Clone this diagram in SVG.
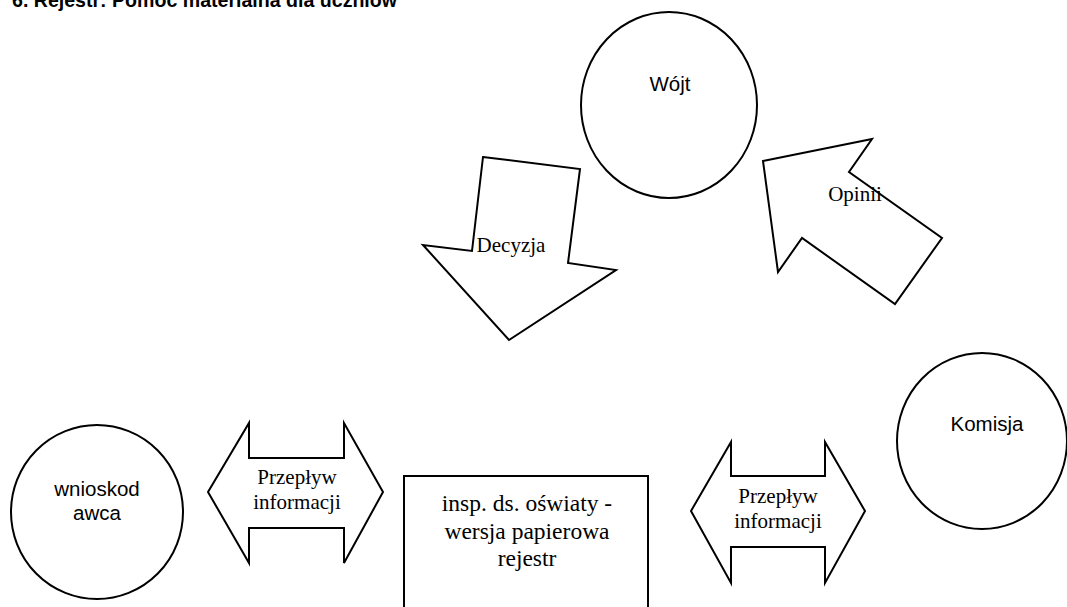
<svg xmlns="http://www.w3.org/2000/svg" width="1067" height="607" viewBox="0 0 1067 607">
  <style>
    .shape { fill: #ffffff; stroke: #000000; stroke-width: 2; stroke-linejoin: miter; }
    .sans { font-family: "Liberation Sans", Arial, sans-serif; fill: #000000; }
    .serif { font-family: "Liberation Serif", "Times New Roman", serif; fill: #000000; }
    .title { font-weight: bold; font-size: 19.5px; }
    .circ { font-size: 20.5px; text-anchor: middle; }
    .flow { font-size: 21px; text-anchor: middle; }
  </style>
  <rect x="0" y="0" width="1067" height="607" fill="#ffffff"/>

  <!-- heading, partly above the page edge -->
  <text class="sans title" x="12" y="7" textLength="385" lengthAdjust="spacingAndGlyphs">6. Rejestr: Pomoc materialna dla uczniów</text>

  <g id="connectors">
    <g id="arrow-decyzja">
      <polygon class="shape" points="483,157 580,169 568,263 616,270 509,340 423,245 472,251"/>
      <text class="serif flow" x="511" y="252" style="text-anchor:middle">Decyzja</text>
    </g>
    <g id="arrow-opinii">
      <polygon class="shape" points="763,161 872,139 849,172 942,238 895,304 802,238 778,272"/>
      <text class="serif flow" x="855" y="201">Opinii</text>
    </g>
    <g id="flow-left">
      <polygon class="shape" points="208,492 249,423 249,458 344,458 344,423 383,492 344,563 344,528 249,528 249,563"/>
      <text class="serif flow" x="297" y="484">Przepływ</text>
      <text class="serif flow" x="297" y="509">informacji</text>
    </g>
    <g id="flow-right">
      <polygon class="shape" points="691,511 731,442 731,476 825,476 825,442 865,511 825,583 825,547 731,547 731,583"/>
      <text class="serif flow" x="778" y="503">Przepływ</text>
      <text class="serif flow" x="778" y="528">informacji</text>
    </g>
  </g>

  <g id="node-wojt">
    <ellipse class="shape" cx="669" cy="105" rx="88" ry="93"/>
    <text class="sans circ" x="670" y="91">Wójt</text>
  </g>

  <g id="node-komisja">
    <ellipse class="shape" cx="982" cy="441" rx="85" ry="88"/>
    <text class="sans circ" x="987" y="431">Komisja</text>
  </g>

  <g id="node-wnioskodawca">
    <ellipse class="shape" cx="97" cy="512" rx="86" ry="87"/>
    <text class="sans circ" x="97" y="496">wnioskod</text>
    <text class="sans circ" x="97" y="520">awca</text>
  </g>

  <g id="node-inspektor">
    <rect class="shape" x="404" y="476" width="244" height="150"/>
    <text class="serif" x="527" y="511" font-size="23.5" text-anchor="middle">insp. ds. oświaty -</text>
    <text class="serif" x="527" y="539" font-size="23.5" text-anchor="middle">wersja papierowa</text>
    <text class="serif" x="527" y="566" font-size="23.5" text-anchor="middle">rejestr</text>
  </g>
</svg>
